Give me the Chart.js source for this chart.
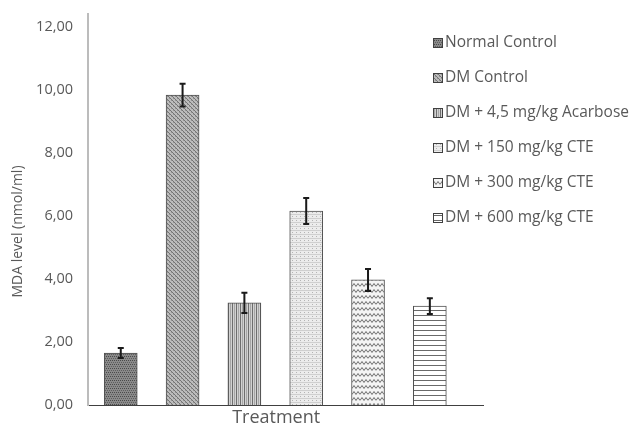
<!DOCTYPE html>
<html><head><meta charset="utf-8">
<script src="https://cdn.jsdelivr.net/npm/chart.js@4.4.0/dist/chart.umd.min.js"></script>
<style>html,body{margin:0;padding:0;background:#fff;}#wrap{width:637px;height:426px;position:relative;}</style>
</head><body><div id="wrap"><canvas id="c" width="637" height="426"></canvas></div>
<script>
const categories = ['Normal Control','DM Control','DM + 4,5 mg/kg Acarbose','DM + 150 mg/kg CTE','DM + 300 mg/kg CTE','DM + 600 mg/kg CTE'];
const mdaLevel = [1.65, 9.84, 3.24, 6.16, 3.97, 3.14];
const mdaError = [0.16, 0.36, 0.32, 0.41, 0.35, 0.25];
const yTickValues = [0, 2, 4, 6, 8, 10, 12];
const xAxisTitle = 'Treatment';
const yAxisTitle = 'MDA level (nmol/ml)';
const patternKinds = ['dark','diag','vert','dots','zigzag','hlines'];

const FONT = "'Open Sans', 'Liberation Sans', sans-serif";
const TEXT = '#595959';
const NBSP = '\u00a0';

function makePattern(kind){
  const c = document.createElement('canvas');
  let w = 4, h = 4;
  if (kind === 'zigzag') { w = 8; h = 6; }
  if (kind === 'hlines') { w = 4; h = 5; }
  c.width = w; c.height = h;
  const g = c.getContext('2d');
  if (kind === 'dark') {
    g.fillStyle = '#8a8a8a'; g.fillRect(0,0,w,h);
    g.fillStyle = '#4a4a4a'; g.fillRect(0,0,1,1); g.fillRect(2,0,1,1);
    g.fillStyle = '#5e5e5e'; g.fillRect(1,2,1,1); g.fillRect(3,2,1,1);
  } else if (kind === 'diag') {
    g.fillStyle = '#bcbcbc'; g.fillRect(0,0,w,h);
    g.fillStyle = '#747474'; g.fillRect(0,0,1,1); g.fillRect(1,1,1,1); g.fillRect(2,2,1,1); g.fillRect(3,3,1,1);
    g.fillStyle = '#969696'; g.fillRect(3,0,1,1); g.fillRect(1,2,1,1);
  } else if (kind === 'vert') {
    g.fillStyle = '#d2d2d2'; g.fillRect(0,0,w,h);
    g.fillStyle = '#6e6e6e'; g.fillRect(0,0,1,h);
    g.fillStyle = '#a6a6a6'; g.fillRect(2,0,1,h);
  } else if (kind === 'dots') {
    g.fillStyle = '#ececec'; g.fillRect(0,0,w,h);
    g.fillStyle = '#b4b4b4'; g.fillRect(0,0,1,1); g.fillRect(2,2,1,1);
    g.fillStyle = '#cfcfcf'; g.fillRect(0,2,4,1);
  } else if (kind === 'zigzag') {
    g.fillStyle = '#f4f4f4'; g.fillRect(0,0,w,h);
    g.strokeStyle = '#6e6e6e'; g.lineWidth = 1;
    g.beginPath(); g.moveTo(0,4.5); g.lineTo(2,1.5); g.lineTo(4,4.5); g.lineTo(6,1.5); g.lineTo(8,4.5); g.stroke();
  } else if (kind === 'hlines') {
    g.fillStyle = '#ffffff'; g.fillRect(0,0,w,h);
    g.fillStyle = '#6a6a6a'; g.fillRect(0,0,w,1);
  }
  return document.getElementById('c').getContext('2d').createPattern(c, 'repeat');
}

const patterns = patternKinds.map(makePattern);

const datasets = categories.map((name, i) => ({
  label: name,
  data: [{x: i, y: mdaLevel[i]}],
  errors: [mdaError[i]],
  backgroundColor: patterns[i],
  borderColor: '#505050',
  borderWidth: 1,
  barThickness: 33,
  grouped: false
}));

const errorBars = {
  id: 'errorBars',
  afterDatasetsDraw(chart){
    const ctx = chart.ctx, ys = chart.scales.y;
    ctx.save();
    ctx.strokeStyle = '#1a1a1a'; ctx.lineWidth = 2;
    chart.data.datasets.forEach((ds, i) => {
      const meta = chart.getDatasetMeta(i);
      meta.data.forEach((el, j) => {
        const v = ds.data[j].y, e = ds.errors[j];
        const x = el.x, top = ys.getPixelForValue(v + e), bot = ys.getPixelForValue(v - e);
        ctx.beginPath();
        ctx.moveTo(x, top); ctx.lineTo(x, bot);
        ctx.moveTo(x - 3, top); ctx.lineTo(x + 3, top);
        ctx.moveTo(x - 3, bot); ctx.lineTo(x + 3, bot);
        ctx.stroke();
      });
    });
    ctx.restore();
  }
};

const sideLegend = {
  id: 'sideLegend',
  afterDraw(chart){
    const ctx = chart.ctx;
    ctx.save();
    ctx.font = '15.5px ' + FONT;
    ctx.textBaseline = 'middle';
    ctx.textAlign = 'left';
    chart.data.datasets.forEach((ds, i) => {
      const y = 43 + 35 * i;
      ctx.fillStyle = ds.backgroundColor;
      ctx.fillRect(433, y - 5, 10, 10);
      ctx.strokeStyle = '#404040'; ctx.lineWidth = 1;
      ctx.strokeRect(433.5, y - 4.5, 9, 9);
      ctx.fillStyle = TEXT;
      ctx.fillText(ds.label, 445, y);
    });
    ctx.restore();
  }
};

new Chart(document.getElementById('c'), {
  type: 'bar',
  data: { datasets },
  plugins: [errorBars, sideLegend],
  options: {
    responsive: false,
    animation: false,
    devicePixelRatio: 1,
    layout: { padding: { top: 14.4, right: 154, left: 0, bottom: 0 } },
    plugins: { legend: { display: false }, tooltip: { enabled: false } },
    scales: {
      x: {
        type: 'linear', min: -0.53, max: 5.86, offset: false,
        grid: { display: false, offset: false },
        border: { display: true, color: '#404040', width: 1 },
        ticks: { display: false },
        title: { display: true, text: xAxisTitle + NBSP.repeat(4), color: TEXT, font: { family: FONT, size: 18 }, padding: { top: 0, bottom: -2.8 } },
        afterFit(s){ s.height = 21; }
      },
      y: {
        min: 0, max: 12.4,
        grid: { display: false, drawTicks: true, tickLength: 11, tickColor: 'rgba(0,0,0,0)' },
        border: { display: true, color: '#bcbcbc', width: 2 },
        afterBuildTicks(s){ s.ticks = yTickValues.map(v => ({ value: v })); },
        ticks: {
          color: TEXT, padding: 4, font: { family: FONT, size: 14.5 },
          callback: v => v.toFixed(2).replace('.', ',')
        },
        title: { display: true, text: yAxisTitle + NBSP.repeat(12), color: TEXT, font: { family: FONT, size: 14 }, padding: { top: 10, bottom: 0 } },
        afterFit(s){ s.width = 88; }
      }
    }
  }
});
</script></body></html>
